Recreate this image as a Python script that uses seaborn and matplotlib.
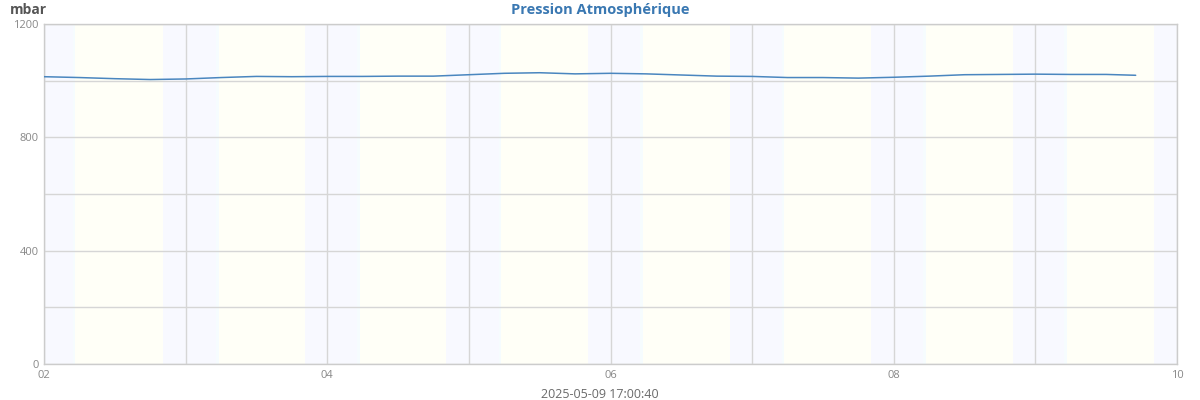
import pandas as pd
import matplotlib
matplotlib.use("Agg")
import matplotlib.pyplot as plt
import matplotlib.dates as mdates
from matplotlib.ticker import MultipleLocator
import seaborn as sns

sns.set_style("white")
plt.rcParams["font.family"] = ["Open Sans", "DejaVu Sans"]

# Readings every 6 hours, last one at 17:00 on the 9th
times = list(pd.date_range("2025-05-02 00:00", "2025-05-09 12:00", freq="6h")) + [pd.Timestamp("2025-05-09 17:00")]
pressure = [1014, 1011, 1007, 1004, 1006, 1011, 1015, 1014,
            1015, 1015, 1016, 1016, 1021, 1026, 1028, 1024,
            1026, 1024, 1020, 1016, 1015, 1011, 1011, 1009,
            1012, 1016, 1021, 1022, 1023, 1022, 1022, 1019]

# Night periods (sunset -> sunrise)
sunsets = ["2025-05-01 20:10", "2025-05-02 20:10", "2025-05-03 20:10", "2025-05-04 20:10",
           "2025-05-05 20:10", "2025-05-06 20:10", "2025-05-07 20:10", "2025-05-08 20:10",
           "2025-05-09 20:10"]
sunrises = ["2025-05-02 04:55", "2025-05-03 05:10", "2025-05-04 05:05", "2025-05-05 05:05",
            "2025-05-06 05:05", "2025-05-07 05:00", "2025-05-08 05:00", "2025-05-09 04:55",
            "2025-05-10 04:55"]

df = pd.DataFrame({"time": times, "pressure": pressure})

fig = plt.figure(figsize=(12, 4), dpi=100)
ax = fig.add_axes([44 / 1200, 36 / 400, 1133 / 1200, 340 / 400])

start = pd.Timestamp("2025-05-02")
end = pd.Timestamp("2025-05-10")

# day / night background bands
ax.axvspan(start, end, color="#fffff7", zorder=0, lw=0)
for s, r in zip(sunsets, sunrises):
    s, r = pd.Timestamp(s), pd.Timestamp(r)
    ax.axvspan(s, r, color="#f8f9ff", zorder=0, lw=0)
    ax.axvspan(r, r + pd.Timedelta("25min"), color="#f6fcfe", zorder=0, lw=0)

sns.lineplot(data=df, x="time", y="pressure", ax=ax, color="#4a86bf", lw=1.1, zorder=3)

ax.set_xlim(start, end)
ax.set_ylim(0, 1200)
ax.yaxis.set_major_locator(MultipleLocator(400))
ax.yaxis.set_minor_locator(MultipleLocator(200))
ax.xaxis.set_major_locator(mdates.DayLocator(interval=2))
ax.xaxis.set_minor_locator(mdates.DayLocator())
ax.xaxis.set_major_formatter(mdates.DateFormatter("%d"))

ax.grid(True, which="both", color="#d6d6d6", lw=1, zorder=1)
ax.set_axisbelow(True)
ax.tick_params(which="both", length=0, labelsize=8, colors="#888888", pad=4)
for sp in ax.spines.values():
    sp.set_color("#cccccc")
    sp.set_linewidth(1)

ax.set_xlabel("")
ax.set_ylabel("")
fig.text(0.5, 1 - 394 / 400, "2025-05-09 17:00:40", fontsize=9, color="#6a6a6a",
         ha="center", va="center")
fig.text(10 / 1200, 1 - 10 / 400, "mbar", fontsize=10, fontweight="bold", color="#555555", va="center")
fig.text(0.5, 1 - 10 / 400, "Pression Atmosphérique", fontsize=10.5, fontweight="bold",
         color="#3a78b2", ha="center", va="center")

fig.savefig("out.png", dpi=100)
